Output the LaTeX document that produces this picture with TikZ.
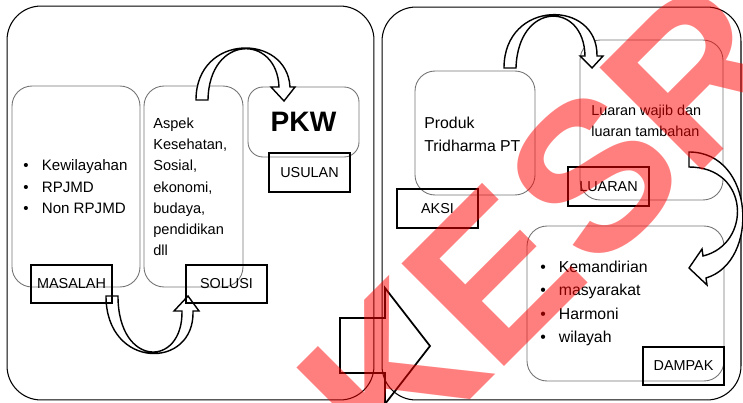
\documentclass[tikz,border=0pt]{standalone}
\usepackage{fontspec}
\setmainfont{Liberation Sans}
\usepackage{tikz}
\newcommand{\itm}{\makebox[0.37cm][l]{\textbullet}}
\tikzset{
  panel/.style={draw, rounded corners=0.68cm, line width=0.6pt, inner sep=0pt},
  inbox/.style={draw=black!55, rounded corners=0.4cm, line width=0.5pt, inner sep=0pt},
  tag/.style={draw, line width=1.2pt, minimum width=1.62cm, minimum height=0.77cm, inner sep=0pt, font=\fontsize{8.2}{10}\selectfont},
  txt/.style={inner sep=0pt, align=left, anchor=west},
  bent/.style={draw, fill=white, line width=0.8pt},
  mark text/.style={text=red, opacity=0.5, font=\fontsize{120}{120}\selectfont\bfseries, inner sep=0pt, rotate=45}
}
\begin{document}
\begin{tikzpicture}[x=0.02cm, y=-0.02cm]
\useasboundingbox (0,0) rectangle (743,402);

\node[panel, minimum width=7.34cm, minimum height=7.88cm] (left) at (190.5,203) {};
\node[panel, minimum width=7.18cm, minimum height=7.86cm] (right) at (561.5,203.5) {};

\node[inbox, minimum width=2.56cm, minimum height=4.02cm] (masalahbox) at (76,186.5) {};
\node[inbox, minimum width=1.98cm, minimum height=4.02cm] (solusibox) at (193.5,186.5) {};
\node[inbox, rounded corners=0.3cm, minimum width=2.22cm, minimum height=1.4cm, font=\fontsize{16}{16}\selectfont\bfseries] (pkwbox) at (303.5,122) {PKW};
\node[inbox, minimum width=2.4cm, minimum height=2.48cm] (produkbox) at (475,133) {};
\node[inbox, minimum width=2.86cm, minimum height=3.2cm] (luaranbox) at (651.5,120) {};
\node[inbox, minimum width=3.94cm, minimum height=3.1cm] (dampakbox) at (625.5,303.5) {};

\node[txt, font=\fontsize{8.6}{12.2}\selectfont] (masalahtxt) at (23,187) {\itm Kewilayahan\\ \itm RPJMD\\ \itm Non RPJMD};
\node[txt, font=\fontsize{8.3}{12.1}\selectfont] (solusitxt) at (153,187) {Aspek\\ Kesehatan,\\ Sosial,\\ ekonomi,\\ budaya,\\ pendidikan\\ dll};
\node[txt, font=\fontsize{9}{13}\selectfont] (produktxt) at (424,134.5) {Produk\\ Tridharma PT};
\node[txt, font=\fontsize{8.2}{11.9}\selectfont] (luarantxt) at (591,120.5) {Luaran wajib dan\\ luaran tambahan};
\node[txt, font=\fontsize{9}{13.4}\selectfont] (dampaktxt) at (540,303.5) {\itm Kemandirian\\ \itm masyarakat\\ \itm Harmoni\\ \itm wilayah};

\draw[bent] (196,100) .. controls (196,33) and (287,33) .. (290,87) -- (295,87) -- (284,101) -- (271,87) -- (279,87) .. controls (277,34) and (209,34) .. (208,100) -- cycle;
\draw[bent] (106,296) .. controls (106,370) and (195,370) .. (193,311) -- (199,311) -- (188,296) -- (174,311) -- (182,311) .. controls (183,368) and (118,368) .. (118,296) -- cycle;
\draw[bent] (504,68) .. controls (504,-1) and (598,-1) .. (597,56) -- (603,56) -- (592,68) -- (580,56) -- (585,56) .. controls (584,1) and (518,1) .. (516,68) -- cycle;
\draw[bent] (689,152) .. controls (755,152) and (760,262) .. (706,278) -- (707,285) -- (689,268) -- (702,249) -- (703,256) .. controls (752,244) and (750,167) .. (689,167) -- cycle;
\draw[line width=1pt] (340,318) -- (385,318) -- (385,288) -- (430,346) -- (385,404) -- (385,373) -- (340,373) -- cycle;

\node[tag] (masalah) at (71.5,284) {MASALAH};
\node[tag] (solusi) at (226.5,284) {SOLUSI};
\node[tag] (usulan) at (309.5,172.5) {USULAN};
\node[tag] (aksi) at (437.5,208.5) {AKSI};
\node[tag] (luaran) at (608.5,186.5) {LUARAN};
\node[tag] (dampak) at (683.5,366) {DAMPAK};

\foreach \l [count=\i] in {K,E,S,R}
  \node[mark text] (stamp\i) at (392+101*\i-101,375-100*\i+100) {\l};
\end{tikzpicture}
\end{document}
